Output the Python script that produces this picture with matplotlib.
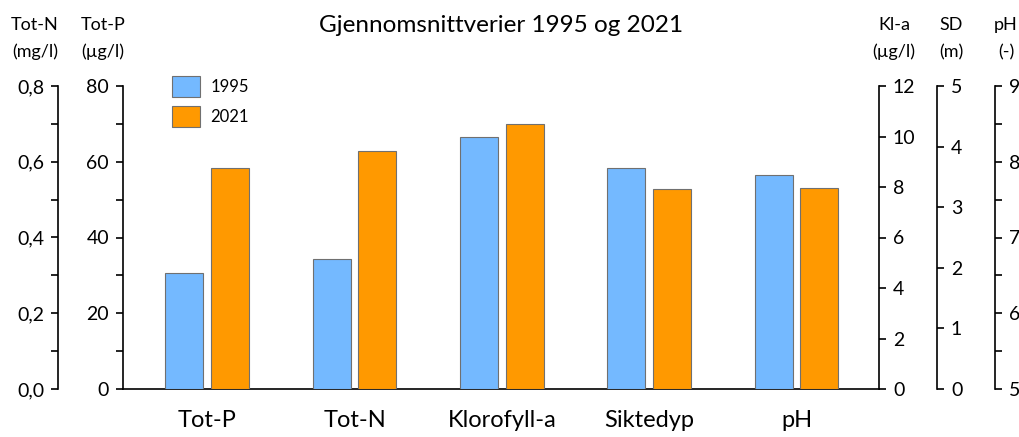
import matplotlib
matplotlib.use("Agg")
import matplotlib.pyplot as plt
from matplotlib.ticker import MultipleLocator, FuncFormatter
from matplotlib.patches import Patch
import numpy as np

plt.rcParams['font.family'] = ['Lato', 'DejaVu Sans']

# data, each in its own unit
categories = ['Tot-P', 'Tot-N', 'Klorofyll-a', 'Siktedyp', 'pH']
years = ['1995', '2021']
totp = [30.5, 58.4]      # ug/l
totn = [0.343, 0.628]    # mg/l
kla = [10.0, 10.5]       # ug/l
sd = [3.65, 3.30]        # m
ph = [7.83, 7.65]        # -

colors = ['#74B9FF', '#FF9900']
W, H = 1019, 437

def fx(p):
    return p / W

def fy(p):
    return 1 - p / H

def pt(p):
    # pixels -> points at 100 dpi
    return p * 72 / 100

fig = plt.figure(figsize=(W / 100, H / 100), dpi=100)
ax = fig.add_axes([fx(123), fy(389), fx(879) - fx(123), fy(86) - fy(389)])

axN = ax.twinx()
axK = ax.twinx()
axS = ax.twinx()
axP = ax.twinx()

x = np.arange(len(categories))
bw = 0.258
off = 0.155

# each variable drawn on its own axis
groups = [(ax, totp, 0), (axN, totn, 0), (axK, kla, 0), (axS, sd, 0), (axP, ph, 5)]
for i, (a, vals, base) in enumerate(groups):
    for j, v in enumerate(vals):
        a.bar(x[i] + (2 * j - 1) * off, v - base, bw, bottom=base, color=colors[j],
              edgecolor='#707070', linewidth=0.8, zorder=3)

ax.set_xlim(-0.572, 4.56)
ax.set_ylim(0, 80)
axN.set_ylim(0, 0.8)
axK.set_ylim(0, 12)
axS.set_ylim(0, 5)
axP.set_ylim(5, 9)

for a in [ax, axN, axK, axS, axP]:
    for s in a.spines.values():
        s.set_visible(False)
    a.tick_params(axis='y', which='both', direction='out', width=1.2, length=5,
                  labelsize=14, pad=5)
    a.patch.set_visible(False)

ax.spines['left'].set_visible(True)
ax.spines['bottom'].set_visible(True)
ax.spines['bottom'].set_linewidth(1.2)
ax.spines['left'].set_linewidth(1.2)
ax.yaxis.set_major_locator(MultipleLocator(20))
ax.yaxis.set_minor_locator(MultipleLocator(10))
ax.set_xticks(x)
ax.set_xticklabels(categories, fontsize=17)
ax.tick_params(axis='x', length=0, pad=15)

axN.yaxis.set_ticks_position('left')
axN.spines['left'].set_visible(True)
axN.spines['left'].set_position(('outward', pt(65)))
axN.spines['left'].set_linewidth(1.2)
axN.yaxis.set_major_locator(MultipleLocator(0.2))
axN.yaxis.set_minor_locator(MultipleLocator(0.1))
axN.yaxis.set_major_formatter(FuncFormatter(lambda v, p: ('%.1f' % v).replace('.', ',')))

for a, pos in [(axK, 0), (axS, 58), (axP, 116)]:
    a.spines['right'].set_visible(True)
    a.spines['right'].set_position(('outward', pt(pos)))
    a.spines['right'].set_linewidth(1.2)

axK.yaxis.set_major_locator(MultipleLocator(2))
axS.yaxis.set_major_locator(MultipleLocator(1))
axP.yaxis.set_major_locator(MultipleLocator(1))
axP.yaxis.set_minor_locator(MultipleLocator(0.5))

# legend
handles = [Patch(facecolor=colors[j], edgecolor='#707070', linewidth=0.8) for j in range(2)]
fig.legend(handles, years, loc='upper left', bbox_to_anchor=(fx(172), fy(76)),
           frameon=False, fontsize=12, handlelength=1.7, handleheight=1.55,
           labelspacing=0.55, handletextpad=0.6, borderpad=0, borderaxespad=0)

fig.text(fx(501), fy(25), 'Gjennomsnittverier 1995 og 2021', fontsize=17.5, ha='center', va='center')
heads = [(35, 'Tot-N', '(mg/l)'), (103, 'Tot-P', '(µg/l)'), (894, 'Kl-a', '(µg/l)'),
         (951, 'SD', '(m)'), (1006, 'pH', '(-)')]
for px, t1, t2 in heads:
    fig.text(fx(px), fy(25), t1, fontsize=13, ha='center', va='center')
    fig.text(fx(px), fy(52), t2, fontsize=13, ha='center', va='center')

fig.savefig('out.png', dpi=100)
